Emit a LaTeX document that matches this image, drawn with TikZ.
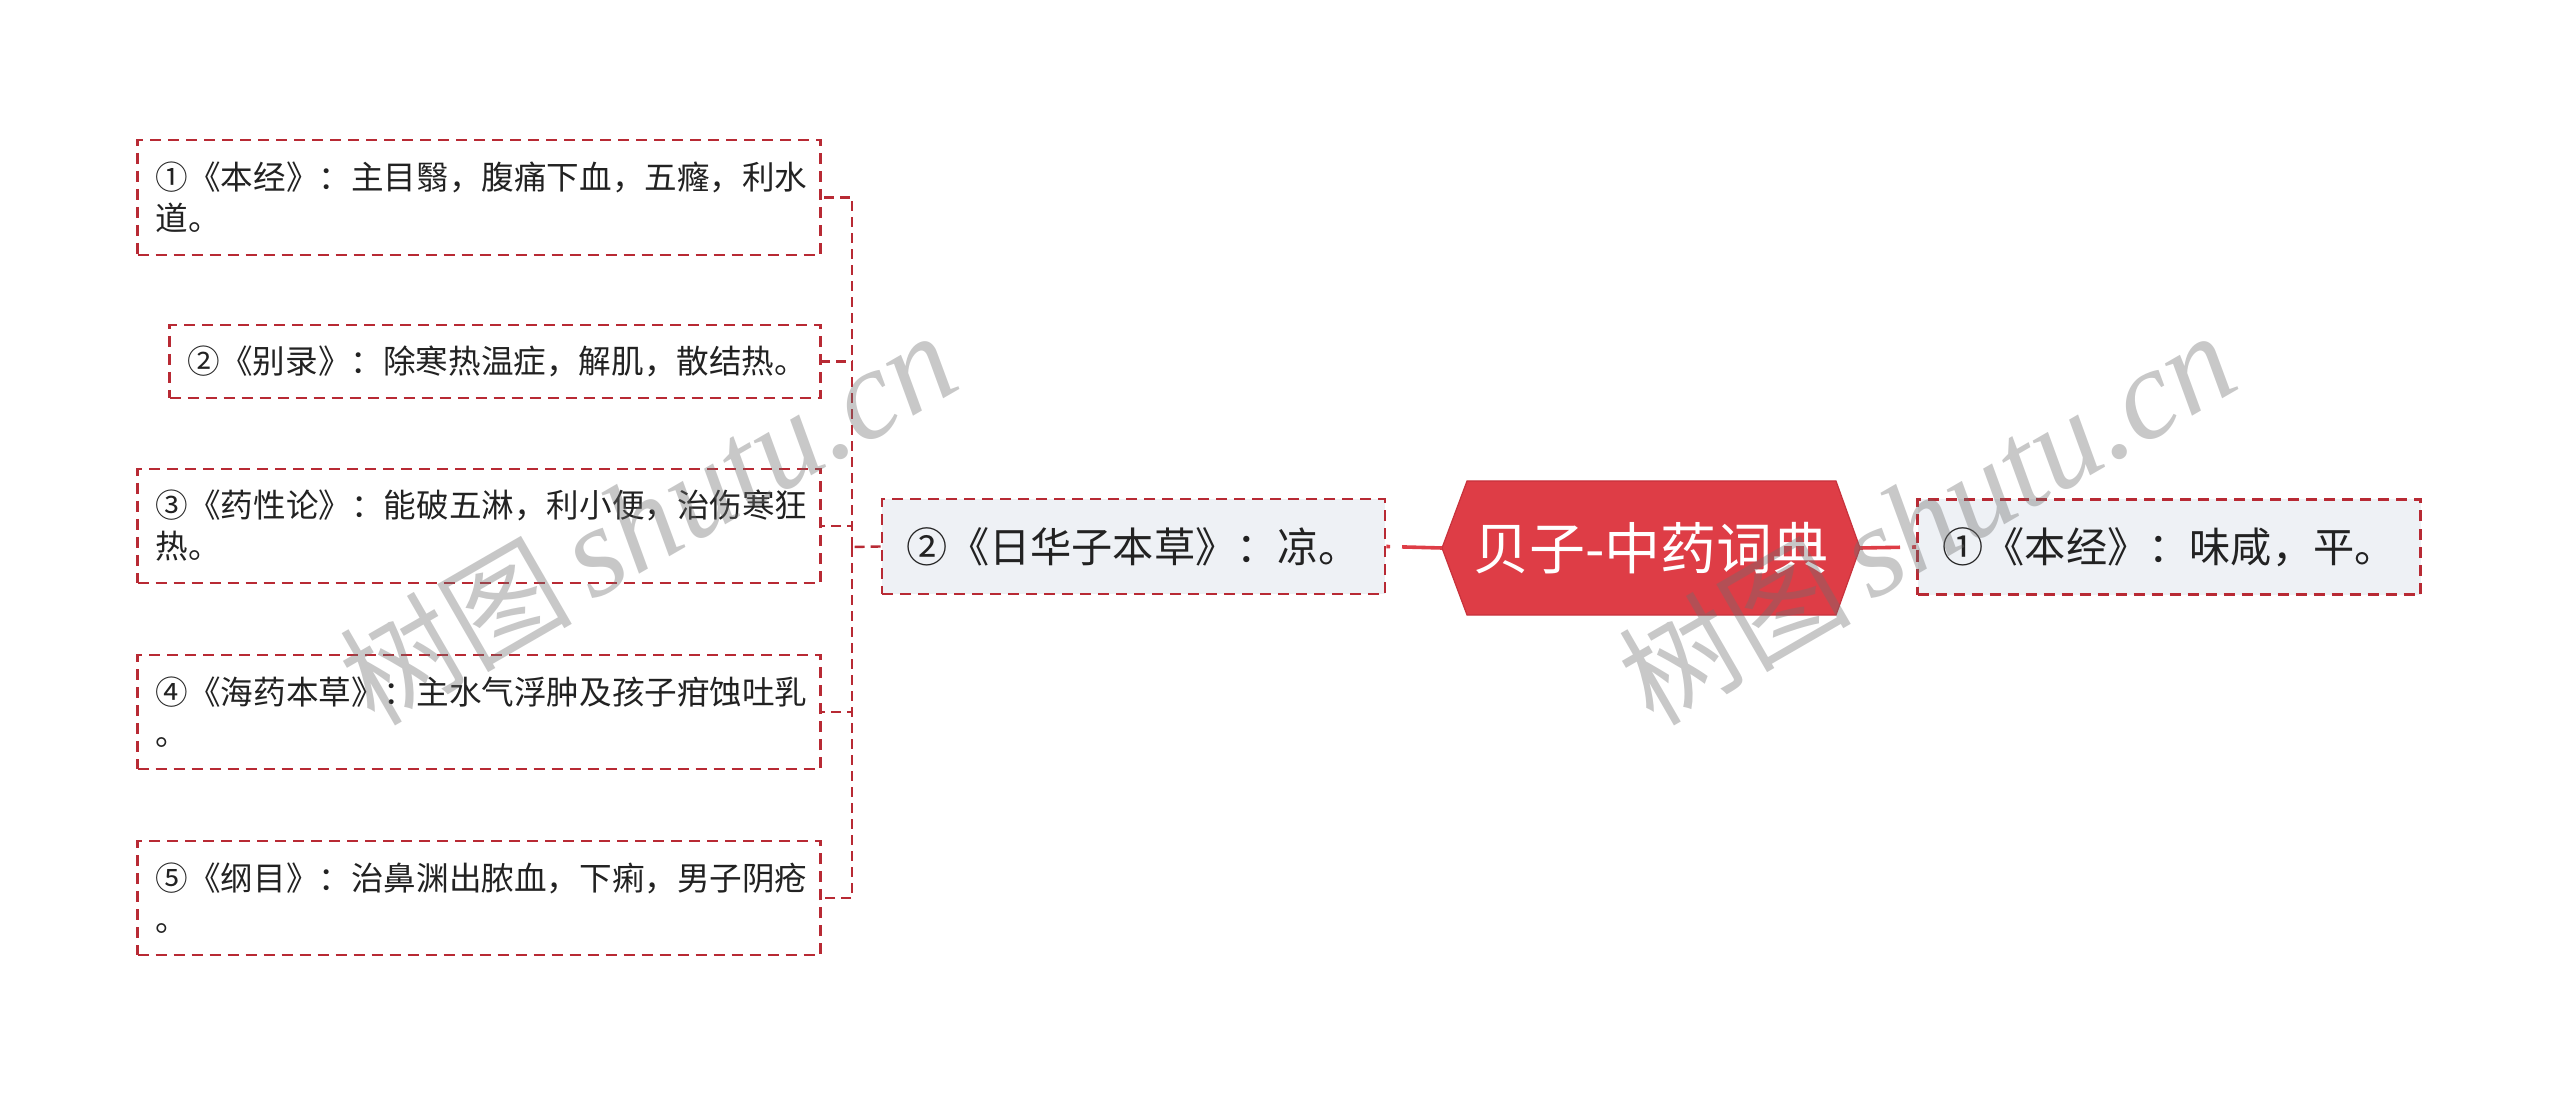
\documentclass[tikz,border=0pt]{standalone}
\usepackage{fontspec}
\setmainfont{Noto Sans CJK SC}
\newfontfamily\wmlat{Liberation Serif}
\definecolor{bred}{RGB}{184,42,52}
\definecolor{hexred}{RGB}{222,61,70}
\definecolor{hexedge}{RGB}{200,50,60}
\definecolor{boxfill}{RGB}{238,241,245}
\definecolor{txt}{RGB}{34,34,34}
\definecolor{wm}{RGB}{110,110,110}
\begin{document}
\begin{tikzpicture}[x=0.5pt,y=-0.5pt,
  dashborder/.style={draw=bred, line width=1.4pt, dash pattern=on 5.5pt off 3.5pt},
  leafbox/.style={dashborder, fill=white, anchor=east, inner xsep=9pt, inner ysep=0pt,
    align=left, font=\fontsize{16.3}{20.5}\selectfont, text=txt},
  sidebox/.style={dashborder, fill=boxfill, inner sep=0pt, minimum width=251.5pt,
    minimum height=47.5pt, font=\fontsize{20.6}{24}\selectfont, text=txt},
  conn/.style={draw=bred, line width=1.2pt, dash pattern=on 5pt off 3pt},
  hexconn/.style={draw=hexred, line width=1.8pt, dash pattern=on 20pt off 6pt on 20pt},
  wmark/.style={rotate=30, text=wm, text opacity=0.38, inner sep=0pt}
]
\useasboundingbox (0,0) rectangle (2560,1096);

% leaf boxes
\node[leafbox, text width=323.5pt, minimum height=57.5pt] (b1) at (822,197.5)
  {①《本经》：主目翳，腹痛下血，五癃，利水\\道。};
\node[leafbox, text width=307.5pt, minimum height=36.5pt] (b2) at (822,361.5)
  {②《别录》：除寒热温症，解肌，散结热。};
\node[leafbox, text width=323.5pt, minimum height=57pt] (b3) at (822,526)
  {③《药性论》：能破五淋，利小便，治伤寒狂\\热。};
\node[leafbox, text width=323.5pt, minimum height=57pt] (b4) at (822,712)
  {④《海药本草》：主水气浮肿及孩子疳蚀吐乳\\。};
\node[leafbox, text width=323.5pt, minimum height=57pt] (b5) at (822,898)
  {⑤《纲目》：治鼻渊出脓血，下痢，男子阴疮\\。};

% side boxes
\node[sidebox] (mid) at (1133.5,546.5) {②《日华子本草》：凉。};
\node[sidebox] (rt) at (2169,547) {①《本经》：味咸，平。};

% central hexagon
\coordinate (hexL) at (1442,548);
\coordinate (hexR) at (1860,548);
\filldraw[fill=hexred, draw=hexedge, line width=0.6pt]
  (hexL) -- (1467,481) -- (1836,481) -- (hexR) -- (1836,615) -- (1467,615) -- cycle;
\node[text=white, font=\fontsize{28}{32}\selectfont, inner sep=0pt] (root) at (1651,548) {贝子-中药词典};

% connectors
\draw[hexconn] (hexL) -- (mid.east);
\draw[hexconn] (hexR) -- (rt.west);
\coordinate (jn) at (852,547);
\draw[conn] (mid.west) -- (jn);
\draw[conn] (jn) |- (b1.east);
\draw[conn] (jn) |- (b2.east);
\draw[conn] (jn) |- (b3.east);
\draw[conn] (jn) |- (b4.east);
\draw[conn] (jn) |- (b5.east);

% watermarks
\node[wmark] (wm1) at (648,519) {\fontsize{58}{58}\selectfont 树图\,{\wmlat\itshape\fontsize{64}{64}\selectfont shutu.cn}};
\node[wmark] (wm2) at (1927,519) {\fontsize{58}{58}\selectfont 树图\,{\wmlat\itshape\fontsize{64}{64}\selectfont shutu.cn}};
\end{tikzpicture}
\end{document}
